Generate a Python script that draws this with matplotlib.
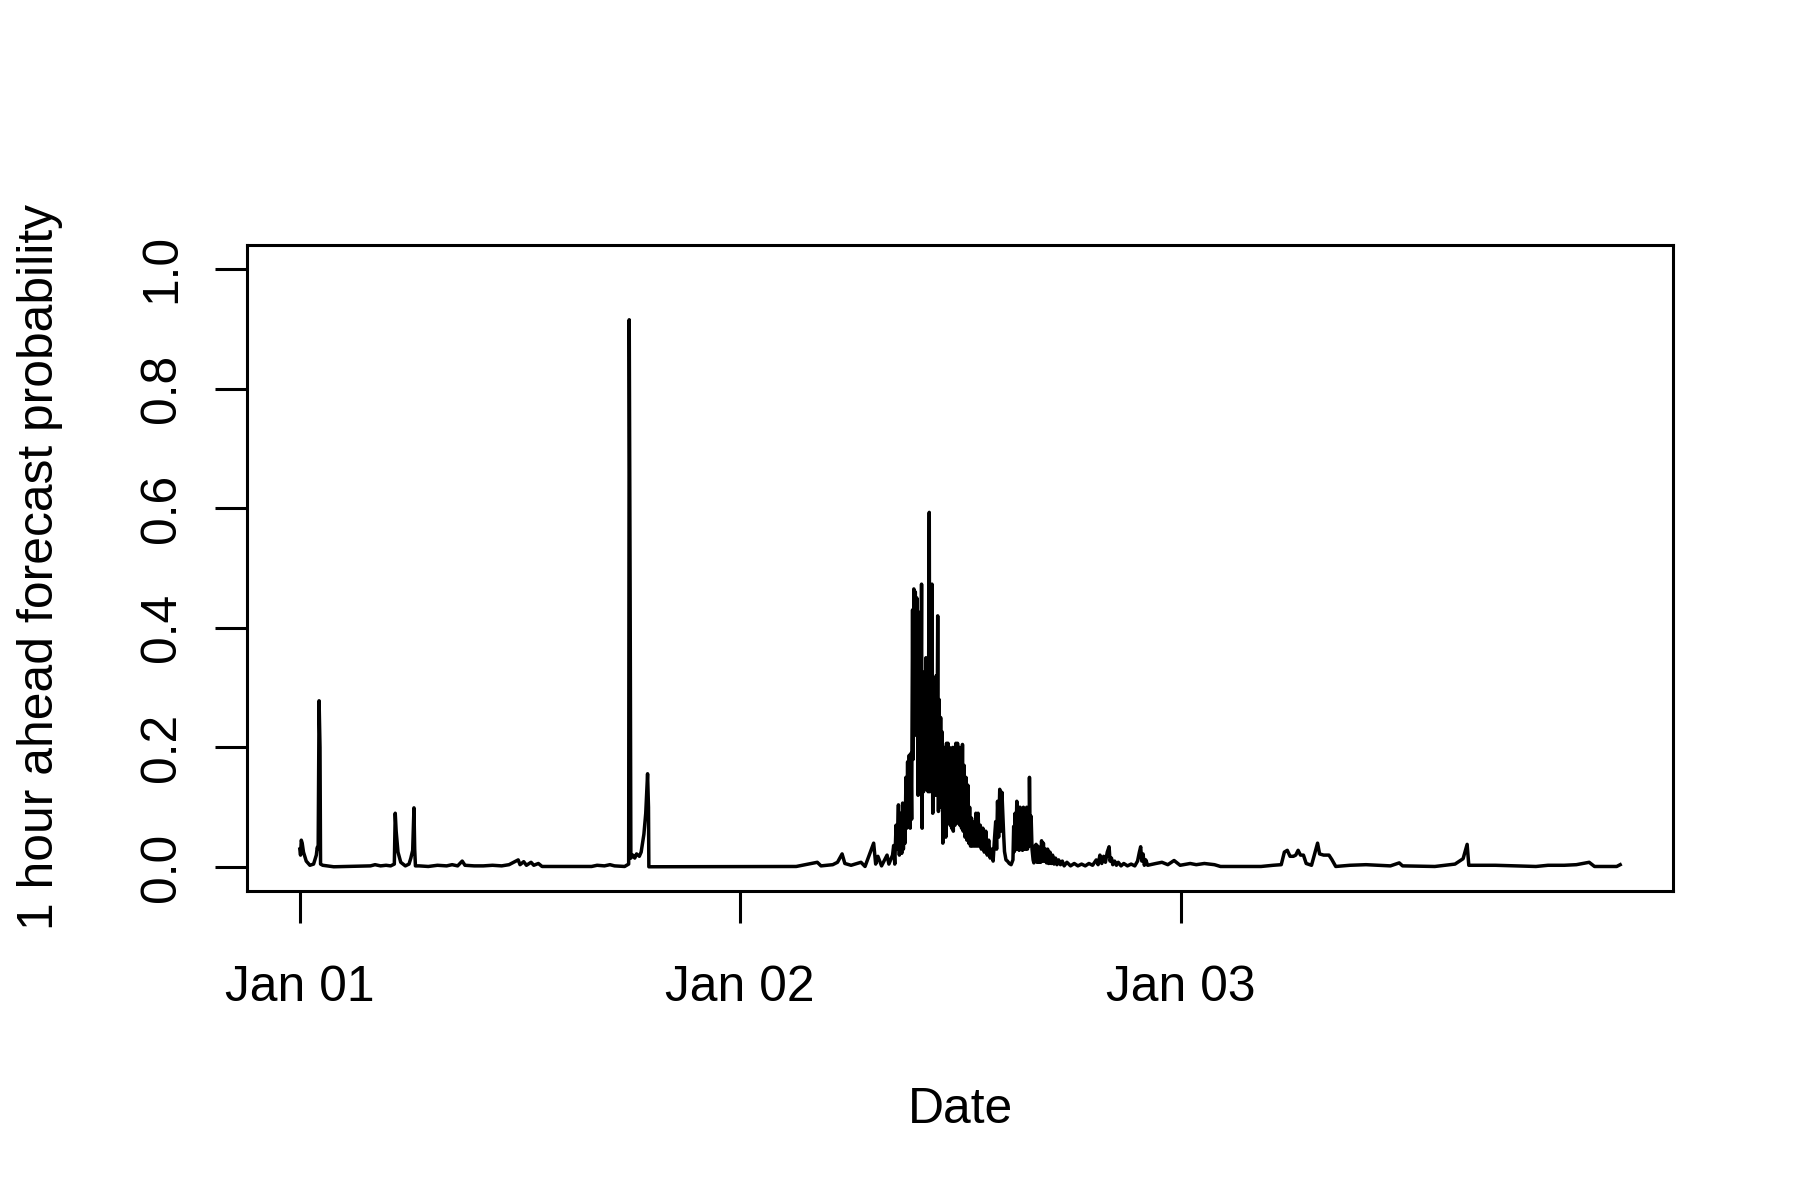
import matplotlib
matplotlib.use("Agg")
import matplotlib.pyplot as plt

plt.rcParams['font.family'] = ['Liberation Sans', 'DejaVu Sans']

# hours since Jan 01 00:00
hours_day1 = [
    0.00, 0.04, 0.08, 0.13, 0.20, 0.35, 0.55, 0.75, 0.90, 0.95, 1.00, 1.05, 1.10, 1.13, 1.25, 1.50, 1.85,
    3.85, 4.10, 4.40, 4.70, 4.95,
    5.15, 5.20, 5.25, 5.35, 5.50, 5.75, 5.95, 6.05, 6.15, 6.22, 6.26, 6.30,
    6.50, 7.00, 7.50, 8.00, 8.30, 8.60, 8.85, 9.00, 9.50, 10.0, 10.5, 11.0, 11.4, 11.9, 12.0,
    12.2, 12.35, 12.6, 12.75, 13.0, 13.2,
    15.9, 16.2, 16.6, 16.9, 17.15, 17.7,
    17.92, 17.95, 18.00, 18.04, 18.15, 18.25, 18.35, 18.5, 18.6, 18.75, 18.85, 18.95, 19.0, 19.02,
]
prob_day1 = [
    0.030, 0.020, 0.045, 0.040, 0.025, 0.010, 0.003, 0.005, 0.020, 0.033, 0.030, 0.278, 0.200, 0.005, 0.003, 0.002, 0.0005,
    0.002, 0.004, 0.002, 0.003, 0.002,
    0.005, 0.090, 0.060, 0.025, 0.008, 0.002, 0.005, 0.015, 0.028, 0.099, 0.030, 0.002,
    0.002, 0.001, 0.003, 0.002, 0.004, 0.002, 0.010, 0.003, 0.002, 0.002, 0.003, 0.002, 0.004, 0.012, 0.004,
    0.009, 0.003, 0.008, 0.003, 0.006, 0.001,
    0.001, 0.003, 0.002, 0.004, 0.002, 0.001,
    0.005, 0.915, 0.458, 0.015, 0.020, 0.015, 0.022, 0.018, 0.025, 0.055, 0.090, 0.156, 0.100, 0.0005,
]

hours_day2 = [
    27.05, 28.2, 28.4, 29.04, 29.3, 29.55, 29.7, 30.04, 30.58, 30.8, 31.27, 31.38, 31.5, 31.7,
    32.0, 32.1, 32.3, 32.36, 32.42, 32.49, 32.54, 32.62, 32.67, 32.72,
    32.76, 32.80, 32.85, 32.89, 32.94, 32.98, 33.03, 33.07, 33.12, 33.16, 33.21, 33.26, 33.30, 33.34,
    33.39, 33.42, 33.46, 33.50, 33.54, 33.58, 33.62, 33.66, 33.69, 33.73, 33.77, 33.80, 33.84, 33.88,
    33.91, 33.95, 33.99, 34.03, 34.07, 34.12, 34.16, 34.20, 34.24, 34.30, 34.33, 34.37, 34.41, 34.45,
    34.49, 34.53, 34.56, 34.60, 34.64, 34.68, 34.72, 34.76, 34.80, 34.84, 34.88, 34.92, 34.96, 35.00,
    35.04, 35.08, 35.12, 35.16, 35.20, 35.24, 35.28, 35.32, 35.36, 35.40, 35.44, 35.48, 35.52, 35.57,
    35.61, 35.66, 35.70, 35.75, 35.79, 35.84, 35.88, 35.93, 35.97, 36.02, 36.06, 36.11, 36.15, 36.20,
    36.25, 36.30, 36.35, 36.40, 36.45, 36.50, 36.55, 36.60, 36.66, 36.72, 36.78, 36.84, 36.90, 36.96,
    37.02, 37.08, 37.14, 37.22, 37.30, 37.38, 37.46, 37.54, 37.62, 37.70, 37.78, 37.86, 37.92, 37.97,
    38.02, 38.08, 38.14, 38.20, 38.26, 38.32, 38.36, 38.40, 38.48, 38.56, 38.66, 38.76, 38.86, 38.90,
    38.94, 38.98, 39.02, 39.07, 39.11, 39.16, 39.20, 39.25, 39.29, 39.34, 39.38, 39.43, 39.47, 39.52,
    39.56, 39.61, 39.65, 39.70, 39.74, 39.76, 39.80, 39.85, 39.90, 39.96, 40.00, 40.04, 40.08, 40.12,
    40.17, 40.22, 40.27, 40.32, 40.37, 40.42, 40.47, 40.52, 40.57, 40.63, 40.69, 40.75, 40.81, 40.88,
    40.95, 41.02, 41.10, 41.18, 41.26, 41.35, 41.45, 41.55, 41.65, 41.8, 42.0, 42.2, 42.4, 42.6,
    42.8, 43.0, 43.2, 43.4, 43.5, 43.6, 43.7, 43.8, 43.9, 44.0, 44.1, 44.15, 44.23, 44.3,
    44.4, 44.5, 44.6, 44.75, 44.9, 45.1, 45.3, 45.5, 45.65, 45.75, 45.82, 45.88, 45.95, 46.02,
    46.1, 46.2,
]
prob_day2 = [
    0.001, 0.008, 0.002, 0.004, 0.008, 0.022, 0.006, 0.003, 0.008, 0.001, 0.040, 0.005, 0.018, 0.002,
    0.020, 0.005, 0.020, 0.036, 0.005, 0.070, 0.030, 0.104, 0.020, 0.086,
    0.090, 0.023, 0.107, 0.030, 0.100, 0.040, 0.150, 0.065, 0.176, 0.070, 0.187, 0.065, 0.190, 0.080,
    0.430, 0.180, 0.465, 0.220, 0.460, 0.226, 0.450, 0.250, 0.120, 0.400, 0.140, 0.426, 0.200, 0.473,
    0.065, 0.326, 0.126, 0.300, 0.150, 0.350, 0.130, 0.280, 0.126, 0.593, 0.126, 0.450, 0.180, 0.473,
    0.090, 0.300, 0.170, 0.280, 0.120, 0.320, 0.160, 0.420, 0.093, 0.280, 0.115, 0.250, 0.100, 0.226,
    0.040, 0.200, 0.060, 0.200, 0.050, 0.207, 0.080, 0.207, 0.073, 0.200, 0.070, 0.170, 0.065, 0.200,
    0.060, 0.200, 0.070, 0.207, 0.080, 0.207, 0.073, 0.200, 0.070, 0.190, 0.065, 0.205, 0.060, 0.170,
    0.050, 0.150, 0.045, 0.137, 0.040, 0.100, 0.035, 0.082, 0.035, 0.075, 0.035, 0.090, 0.035, 0.090,
    0.035, 0.070, 0.030, 0.065, 0.025, 0.060, 0.020, 0.045, 0.015, 0.030, 0.010, 0.050, 0.076, 0.030,
    0.110, 0.050, 0.130, 0.060, 0.125, 0.080, 0.050, 0.026, 0.012, 0.010, 0.006, 0.004, 0.012, 0.068,
    0.026, 0.090, 0.030, 0.110, 0.030, 0.100, 0.028, 0.100, 0.030, 0.090, 0.028, 0.100, 0.030, 0.090,
    0.030, 0.100, 0.030, 0.090, 0.035, 0.150, 0.040, 0.085, 0.030, 0.012, 0.007, 0.035, 0.010, 0.038,
    0.008, 0.035, 0.008, 0.030, 0.008, 0.044, 0.010, 0.040, 0.010, 0.030, 0.007, 0.030, 0.006, 0.025,
    0.006, 0.020, 0.005, 0.015, 0.004, 0.012, 0.004, 0.010, 0.002, 0.008, 0.002, 0.006, 0.002, 0.005,
    0.002, 0.006, 0.003, 0.012, 0.004, 0.020, 0.006, 0.018, 0.008, 0.025, 0.034, 0.010, 0.015, 0.004,
    0.010, 0.003, 0.008, 0.002, 0.006, 0.002, 0.005, 0.002, 0.010, 0.025, 0.034, 0.010, 0.022, 0.003,
    0.012, 0.003,
]

hours_day3 = [
    46.65, 46.98, 47.3, 47.64, 47.97, 48.52, 48.85, 49.29, 49.84, 50.17, 52.38, 53.04, 53.48,
    53.65, 53.81, 53.96, 54.14, 54.27, 54.4, 54.53, 54.69, 54.84, 55.13, 55.28, 55.46, 55.57,
    55.79, 56.08, 56.23, 56.45, 57.22, 58.1, 58.76, 59.43, 59.91, 60.09, 61.85, 62.95, 63.39,
    63.61, 63.7, 65.15, 66.25, 67.36, 68.02, 68.9, 69.56, 70.26, 70.55, 71.76, 71.95,
]
prob_day3 = [
    0.006, 0.008, 0.004, 0.011, 0.003, 0.006, 0.004, 0.006, 0.004, 0.001, 0.001, 0.003, 0.004,
    0.025, 0.028, 0.018, 0.018, 0.020, 0.028, 0.020, 0.020, 0.006, 0.003, 0.020, 0.040, 0.022,
    0.020, 0.020, 0.013, 0.001, 0.003, 0.004, 0.003, 0.002, 0.007, 0.002, 0.001, 0.005, 0.014,
    0.038, 0.003, 0.003, 0.002, 0.001, 0.003, 0.003, 0.004, 0.008, 0.001, 0.001, 0.004,
]

hours = hours_day1 + hours_day2 + hours_day3
prob = prob_day1 + prob_day2 + prob_day3

x_ticks = [0, 24, 48]
x_tick_labels = ["Jan 01", "Jan 02", "Jan 03"]
y_ticks = [0.0, 0.2, 0.4, 0.6, 0.8, 1.0]
y_tick_labels = ["0.0", "0.2", "0.4", "0.6", "0.8", "1.0"]

fs = 35.8
lw = 2.2

fig = plt.figure(figsize=(18, 12), dpi=100)
ax = fig.add_axes([247/1800, 1 - 891/1200, (1673 - 247)/1800, (891 - 245)/1200])

ax.plot(hours, prob, color="black", linewidth=2.5)

# R style 4% padding
span = hours[-1] - hours[0]
ax.set_xlim(hours[0] - 0.04*span, hours[-1] + 0.04*span)
ax.set_ylim(-0.04, 1.04)

for s in ax.spines.values():
    s.set_linewidth(lw)

ax.set_xticks(x_ticks)
ax.set_xticklabels(x_tick_labels, fontsize=fs)
ax.set_yticks(y_ticks)
ax.set_yticklabels(y_tick_labels, fontsize=fs)
ax.tick_params(axis="both", length=23, width=lw, direction="out")
ax.tick_params(axis="x", pad=56)
ax.tick_params(axis="y", pad=29)

for lbl in ax.get_xticklabels():
    lbl.set_va("baseline")
for lbl in ax.get_yticklabels():
    lbl.set_rotation(90)
    lbl.set_rotation_mode("anchor")
    lbl.set_ha("center")
    lbl.set_va("baseline")

fig.text(960/1800, 1 - 1123/1200, "Date", fontsize=fs, ha="center", va="baseline")
fig.text(53/1800, 1 - 567/1200, "1 hour ahead forecast probability", fontsize=fs,
         rotation=90, rotation_mode="anchor", ha="center", va="baseline")

fig.savefig("out.png", dpi=100)
